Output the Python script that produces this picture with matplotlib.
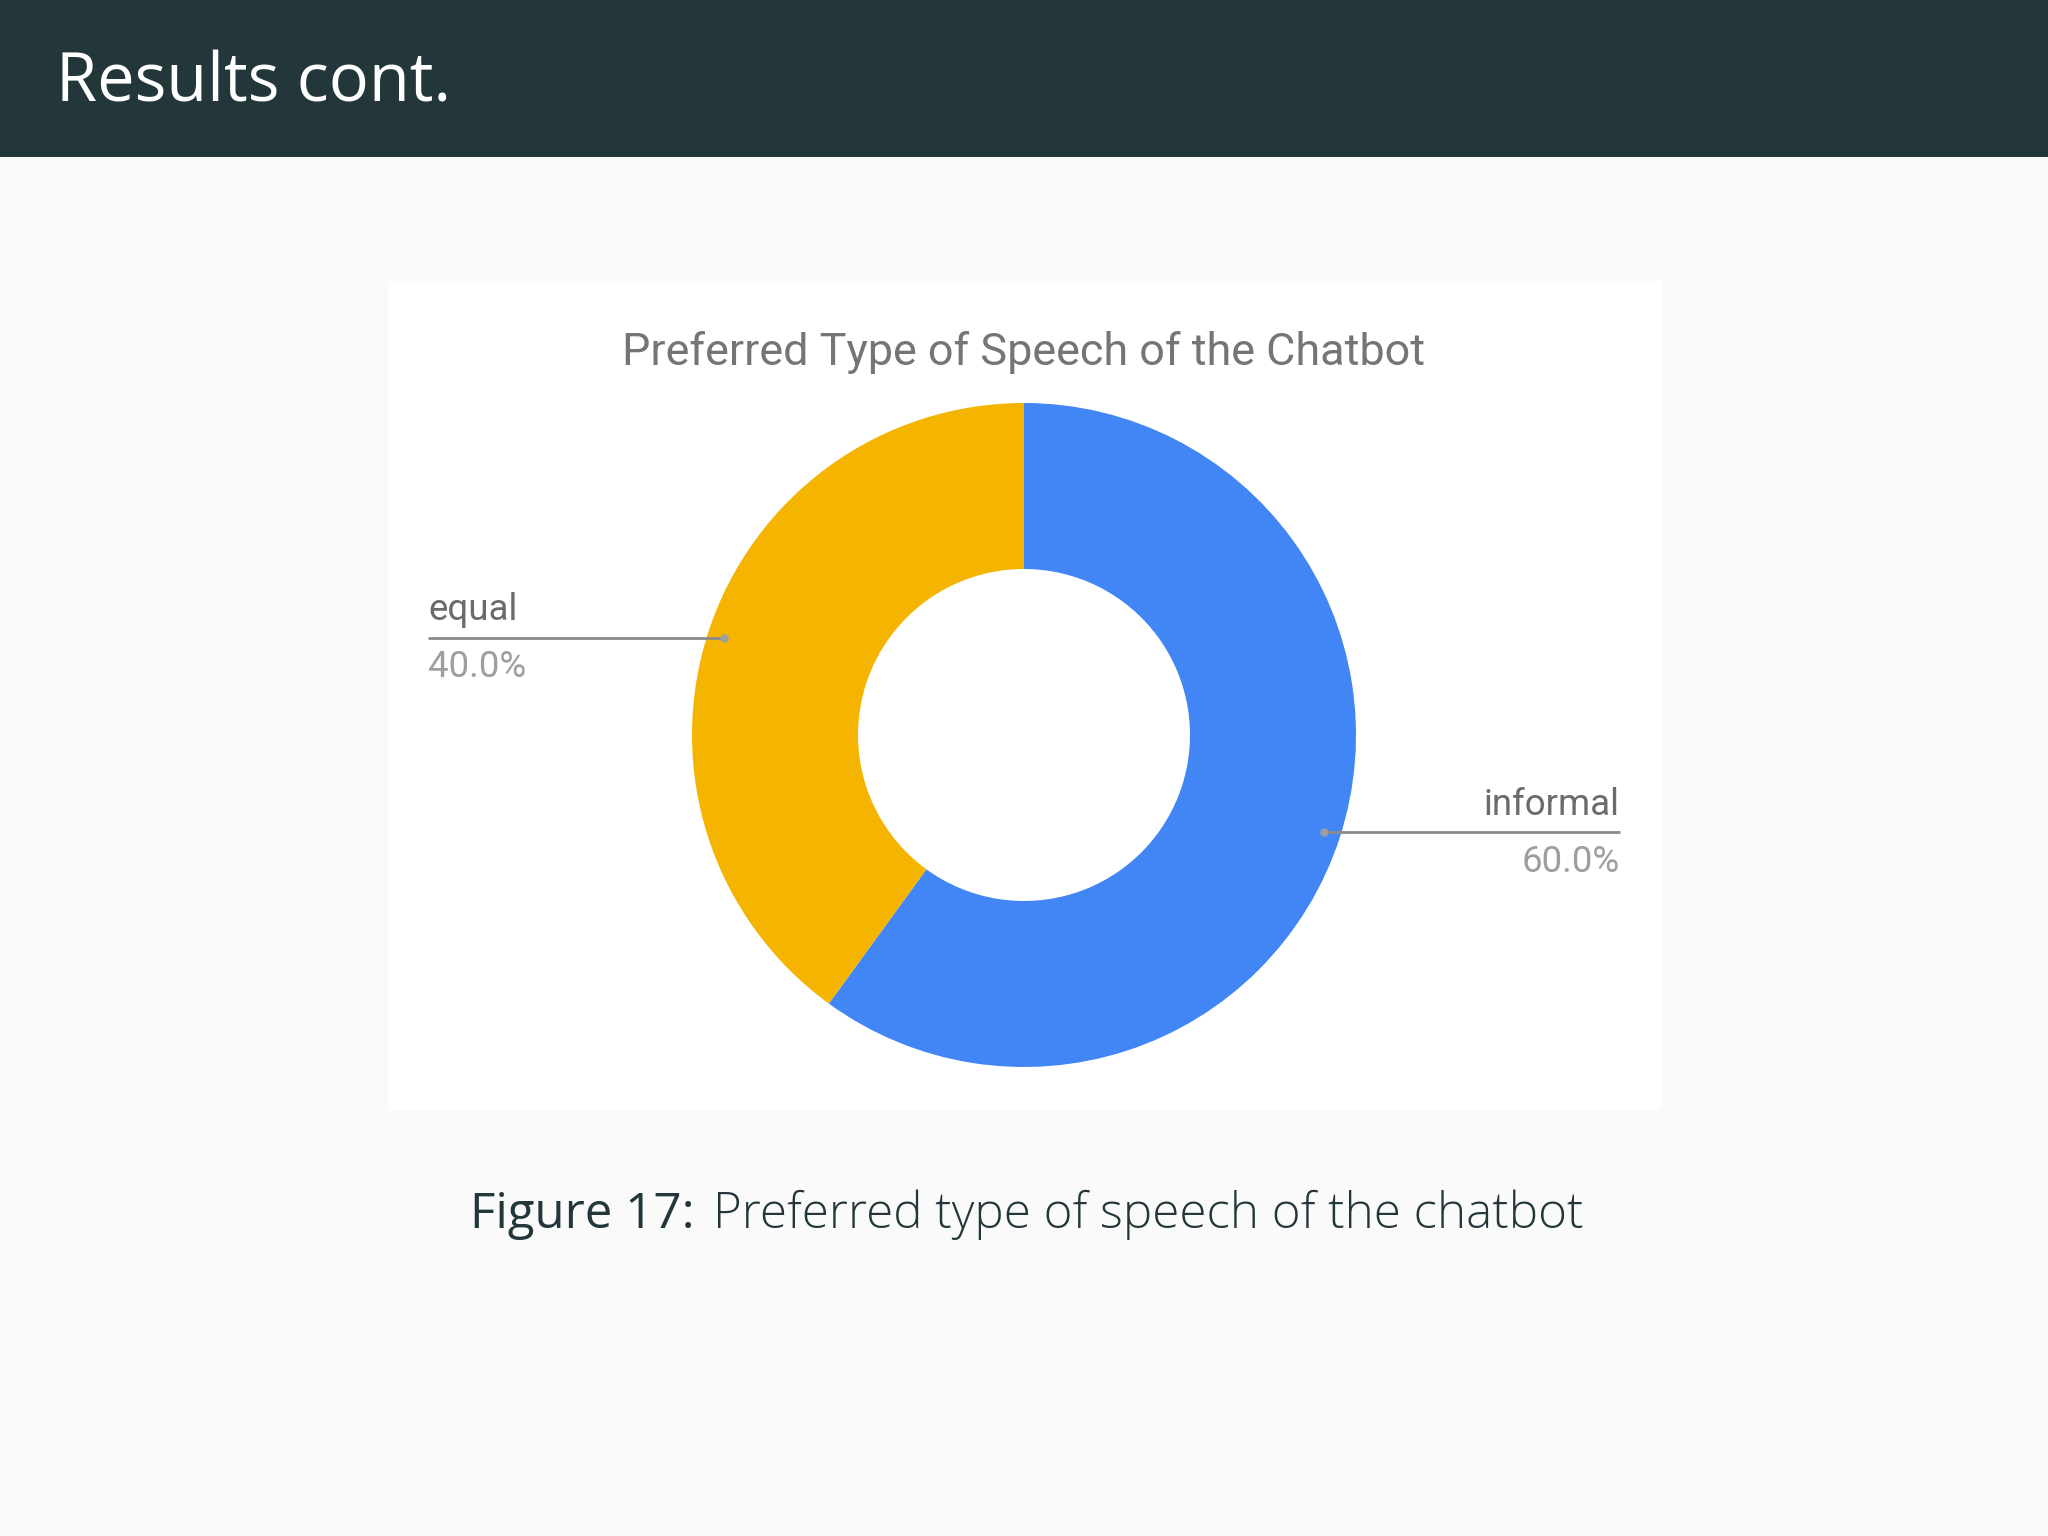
import numpy as np
import matplotlib.pyplot as plt
from matplotlib.patches import Rectangle

labels = ["informal", "equal"]
shares = [60.0, 40.0]
colors = ["#4285F4", "#F4B400"]

W, H = 2048, 1536
fig = plt.figure(figsize=(W / 100, H / 100), dpi=100, facecolor="#FAFAFA")

# header bar of the slide
fig.patches.append(Rectangle((0, 1 - 157 / H), 1, 157 / H, transform=fig.transFigure,
                             facecolor="#23373B", edgecolor="none", zorder=-1))
fig.text(56 / W, 1 - 84 / H, "Results cont.", color="white", fontsize=48,
         family="Open Sans", va="center", ha="left")

# white chart card
fig.patches.append(Rectangle((388 / W, 1 - 1110 / H), (1661 - 388) / W, (1110 - 281) / H,
                             transform=fig.transFigure, facecolor="white",
                             edgecolor="none", zorder=-1))
fig.text(1023 / W, 1 - 352 / H, "Preferred Type of Speech of the Chatbot", color="#757575",
         fontsize=32.4, family="Roboto", ha="center", va="center")

# donut axes, centre at (1024, 735) px, outer radius 332 px
R = 332
lim = 1.95
side = 2 * lim * R
ax = fig.add_axes([(1024 - side / 2) / W, (H - 735 - side / 2) / H, side / W, side / H])
ax.set_zorder(1)

wedges, _ = ax.pie(shares, colors=colors, startangle=90, counterclock=False, radius=1,
                   wedgeprops=dict(width=0.5, edgecolor="none"))
ax.set_xlim(-lim, lim)
ax.set_ylim(-lim, lim)
ax.set_aspect("equal")
ax.axis("off")

end_x = 1.795
for w, lab, val in zip(wedges, labels, shares):
    mid = np.deg2rad((w.theta1 + w.theta2) / 2)
    px, py = 0.95 * np.cos(mid), 0.95 * np.sin(mid)
    side_sign = 1 if px > 0 else -1
    ex = side_sign * end_x
    ax.plot([px, ex], [py, py], color="#8a8a8a", lw=2, solid_capstyle="butt")
    ax.plot(px, py, "o", color="#9e9e9e", ms=6, mec="none")
    ha = "right" if side_sign > 0 else "left"
    ax.text(ex, py + 0.03, lab, ha=ha, va="bottom", fontsize=26.4, color="#6b6b6b",
            family="Roboto")
    ax.text(ex, py - 0.035, f"{val:.1f}%", ha=ha, va="top", fontsize=26.4, color="#9e9e9e",
            family="Roboto")

# caption
cap_y = 1 - 1215 / H
t1 = fig.text(470 / W, cap_y, "Figure 17:", color="#23373B", fontsize=35.5,
              family="Open Sans", ha="left", va="center")
fig.canvas.draw()
bb = t1.get_window_extent()
fig.text((bb.x1 + 18) / W, cap_y, "Preferred type of speech of the chatbot", color="#23373B",
         fontsize=35.5, family="Open Sans", fontweight="light", ha="left", va="center")

fig.savefig("out.png", dpi=100, facecolor=fig.get_facecolor())
